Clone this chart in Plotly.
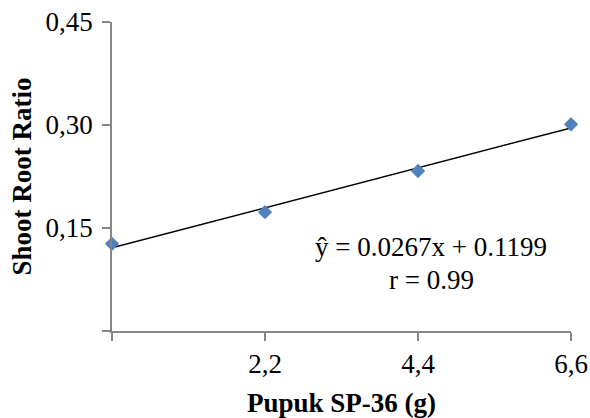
import numpy as np
import plotly.graph_objects as go

pupuk = [0.0, 2.2, 4.4, 6.6]
ratio = [0.127, 0.173, 0.233, 0.301]
x_tickvals = [0.0, 2.2, 4.4, 6.6]
x_ticktext = ["", "2,2", "4,4", "6,6"]
y_tickvals = [0.0, 0.15, 0.30, 0.45]
y_ticktext = ["", "0,15", "0,30", "0,45"]
eq_text = "ŷ = 0.0267x + 0.1199"
r_text = "r = 0.99"

slope, intercept = np.polyfit(pupuk, ratio, 1)
fit_x = [min(pupuk), max(pupuk)]
fit_y = [slope * v + intercept for v in fit_x]

font = "Liberation Serif, Times New Roman, serif"
axis_col = "#868686"

fig = go.Figure()
fig.add_trace(go.Scatter(x=fit_x, y=fit_y, mode="lines",
                         line=dict(color="black", width=1.5),
                         cliponaxis=False, showlegend=False, hoverinfo="skip"))
fig.add_trace(go.Scatter(x=pupuk, y=ratio, mode="markers",
                         marker=dict(symbol="diamond", size=11, color="#4F81BD"),
                         cliponaxis=False, showlegend=False))

fig.add_annotation(x=4.59, y=0.122, text=eq_text, showarrow=False,
                   font=dict(family=font, size=27, color="black"))
fig.add_annotation(x=4.59, y=0.074, text=r_text, showarrow=False,
                   font=dict(family=font, size=27, color="black"))

fig.update_layout(
    width=590, height=418,
    margin=dict(l=112, r=19, t=22, b=87),
    paper_bgcolor="white", plot_bgcolor="white",
    font=dict(family=font, size=27, color="black"),
    xaxis=dict(range=[0, 6.6], tickvals=x_tickvals, ticktext=x_ticktext,
               showgrid=False, zeroline=False, showline=True,
               linecolor=axis_col, linewidth=1.5, automargin=False,
               ticks="outside", ticklen=8, tickcolor=axis_col, tickwidth=1.5,
               ticklabelstandoff=0,
               title=dict(text="<b>Pupuk SP-36 (g)</b>", standoff=26,
                          font=dict(family=font, size=27))),
    yaxis=dict(range=[0, 0.45], tickvals=y_tickvals, ticktext=y_ticktext,
               showgrid=False, zeroline=False, showline=True,
               linecolor=axis_col, linewidth=1.5, automargin=False,
               ticks="outside", ticklen=8, tickcolor=axis_col, tickwidth=1.5,
               ticklabelstandoff=4,
               title=dict(text="<b>Shoot Root Ratio</b>", standoff=6,
                          font=dict(family=font, size=27))),
)

fig.write_html("out.html")
